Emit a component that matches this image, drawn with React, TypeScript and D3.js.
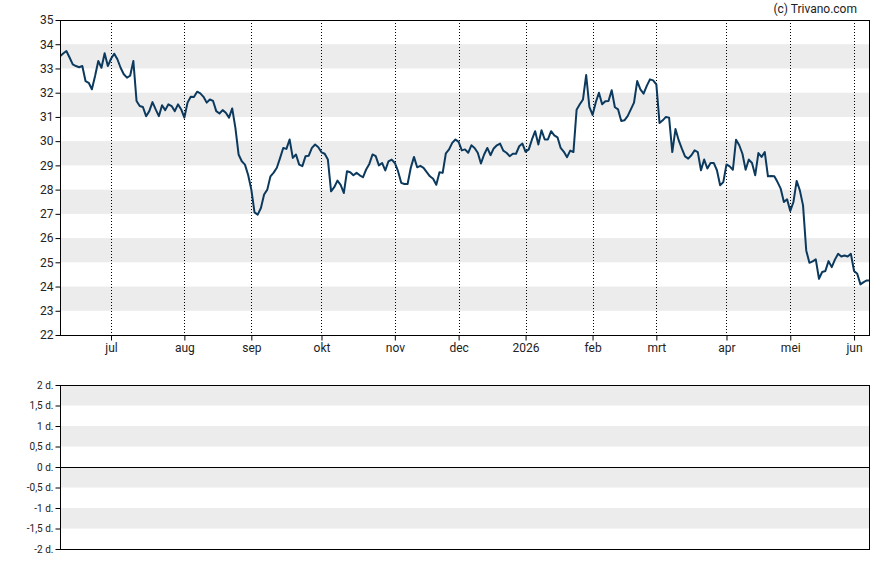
import { useEffect, useRef } from "react";
import * as d3 from "d3";

// closing price per trading day (index 0 = mid June 2025)
const prices = [
  33.5, 33.62, 33.72, 33.45, 33.17, 33.1, 33.05, 33.1, 32.48, 32.41,
  32.14, 32.69, 33.31, 33.03, 33.63, 33.1, 33.4, 33.61, 33.38, 33.03,
  32.76, 32.62, 32.7, 33.31, 31.66, 31.45, 31.41, 31.03, 31.24, 31.61,
  31.31, 31.03, 31.48, 31.28, 31.52, 31.45, 31.24, 31.52, 31.31, 30.97,
  31.59, 31.83, 31.82, 32.04, 31.97, 31.83, 31.59, 31.72, 31.66, 31.24,
  31.14, 31.28, 31.17, 30.97, 31.35, 30.55, 29.45, 29.17, 29.03, 28.6,
  28.0, 27.06, 26.97, 27.24, 27.8, 28.0, 28.55, 28.7, 28.9, 29.3,
  29.72, 29.68, 30.07, 29.31, 29.45, 29.03, 28.97, 29.38, 29.4, 29.72,
  29.86, 29.75, 29.54, 29.48, 29.24, 27.93, 28.1, 28.37, 28.2, 27.86,
  28.76, 28.72, 28.59, 28.69, 28.59, 28.51, 28.83, 29.06, 29.45, 29.38,
  29.0, 29.1, 28.79, 29.17, 29.24, 29.1, 28.76, 28.28, 28.23, 28.23,
  28.9, 29.35, 28.92, 28.98, 28.9, 28.72, 28.55, 28.45, 28.2, 28.72,
  28.69, 29.5, 29.66, 29.93, 30.07, 29.97, 29.62, 29.66, 29.52, 29.83,
  29.72, 29.52, 29.08, 29.45, 29.72, 29.42, 29.7, 29.83, 29.9, 29.61,
  29.52, 29.38, 29.48, 29.48, 29.79, 29.9, 29.56, 29.66, 30.07, 30.41,
  29.86, 30.45, 30.07, 30.07, 30.41, 30.24, 30.16, 29.72, 29.56, 29.34,
  29.61, 29.55, 31.3, 31.52, 31.72, 32.73, 31.41, 31.08, 31.6, 32.0,
  31.52, 31.65, 31.66, 32.1, 31.4, 31.31, 30.83, 30.86, 31.03, 31.31,
  31.59, 32.48, 32.14, 31.96, 32.28, 32.55, 32.51, 32.34, 30.75, 30.86,
  31.0, 30.97, 29.55, 30.5, 30.04, 29.69, 29.37, 29.28, 29.42, 29.62,
  29.55, 28.8, 29.24, 28.87, 29.1, 29.1, 28.8, 28.18, 28.31, 29.04,
  28.96, 28.82, 30.06, 29.83, 29.48, 28.82, 29.24, 29.1, 28.59, 29.51,
  29.35, 29.55, 28.55, 28.56, 28.55, 28.31, 28.04, 27.49, 27.6, 27.12,
  27.49, 28.36, 27.97, 27.35, 25.49, 24.98, 25.04, 25.12, 24.32, 24.6,
  24.64, 25.05, 24.8, 25.11, 25.35, 25.24, 25.28, 25.24, 25.35, 24.64,
  24.53, 24.09, 24.18, 24.25, 24.25,
];

const monthLabels = ["jul", "aug", "sep", "okt", "nov", "dec", "2026", "feb", "mrt", "apr", "mei", "jun"];
// trading day index where each month starts
const monthStarts = [16, 39, 60, 82, 105, 125, 146, 167, 187, 209, 229, 249];

const priceTicks = [22, 23, 24, 25, 26, 27, 28, 29, 30, 31, 32, 33, 34, 35];
const priceBands = [23, 25, 27, 29, 31, 33];

const spreadTicks = [-2, -1.5, -1, -0.5, 0, 0.5, 1, 1.5, 2];
const spreadLabels = ["-2 d.", "-1,5 d.", "-1 d.", "-0,5 d.", "0 d.", "0,5 d.", "1 d.", "1,5 d.", "2 d."];
const spreadBands = [-1.5, -0.5, 0.5, 1.5];

const W = 888;
const H = 565;
const FONT = "Roboto, 'Noto Sans', sans-serif";

export default function App() {
  const svgRef = useRef<SVGSVGElement>(null);

  useEffect(() => {
    const svg = d3.select(svgRef.current);
    svg.selectAll("*").remove();

    const left = 60;
    const right = 870;
    const top = 20;
    const bottom = 335;

    const x = d3.scaleLinear().domain([0, 254]).range([left, right]);
    const y = d3.scaleLinear().domain([22, 35]).range([bottom, top]);

    // background bands
    svg.append("g")
      .selectAll("rect")
      .data(priceBands)
      .join("rect")
      .attr("x", left)
      .attr("width", right - left)
      .attr("y", (d) => y(d + 1))
      .attr("height", (d) => y(d) - y(d + 1))
      .attr("fill", "#ececec");

    // dotted month lines
    svg.append("g")
      .selectAll("line")
      .data(monthStarts)
      .join("line")
      .attr("x1", (d) => Math.round(x(d)) + 0.5)
      .attr("x2", (d) => Math.round(x(d)) + 0.5)
      .attr("y1", top)
      .attr("y2", bottom)
      .attr("stroke", "#000")
      .attr("stroke-dasharray", "1,2");

    svg.append("defs")
      .append("clipPath")
      .attr("id", "plotClip")
      .append("rect")
      .attr("x", left)
      .attr("y", top)
      .attr("width", right - left)
      .attr("height", bottom - top);

    const priceLine = d3.line<number>()
      .x((d, i) => x(i))
      .y((d) => y(d));

    svg.append("path")
      .datum(prices)
      .attr("clip-path", "url(#plotClip)")
      .attr("d", priceLine)
      .attr("fill", "none")
      .attr("stroke", "#0c3a5e")
      .attr("stroke-width", 2)
      .attr("stroke-linejoin", "round");

    // frame
    svg.append("rect")
      .attr("x", left + 0.5)
      .attr("y", top + 0.5)
      .attr("width", right - left - 1)
      .attr("height", bottom - top)
      .attr("fill", "none")
      .attr("stroke", "#000");

    const yAxis = svg.append("g")
      .attr("transform", `translate(${left + 0.5},0)`)
      .call(d3.axisLeft(y).tickValues(priceTicks).tickSize(5).tickPadding(2).tickFormat(d3.format("d")));
    yAxis.select(".domain").remove();

    const xAxis = svg.append("g")
      .attr("transform", `translate(0,${bottom + 0.5})`)
      .call(
        d3.axisBottom(x)
          .tickValues(monthStarts)
          .tickSize(5)
          .tickPadding(3)
          .tickFormat((d, i) => monthLabels[i])
      );
    xAxis.select(".domain").remove();

    [yAxis, xAxis].forEach((g) => {
      g.selectAll("text").attr("font-family", FONT).attr("font-size", 12).attr("fill", "#222");
      g.selectAll("line").attr("stroke", "#000");
    });

    // lower panel
    const top2 = 385;
    const bottom2 = 549;
    const y2 = d3.scaleLinear().domain([-2, 2]).range([bottom2, top2]);

    svg.append("g")
      .selectAll("rect")
      .data(spreadBands)
      .join("rect")
      .attr("x", left)
      .attr("width", right - left)
      .attr("y", (d) => y2(d + 0.5))
      .attr("height", (d) => y2(d) - y2(d + 0.5))
      .attr("fill", "#ececec");

    svg.append("line")
      .attr("x1", left)
      .attr("x2", right)
      .attr("y1", Math.round(y2(0)) + 0.5)
      .attr("y2", Math.round(y2(0)) + 0.5)
      .attr("stroke", "#000");

    svg.append("rect")
      .attr("x", left + 0.5)
      .attr("y", top2 + 0.5)
      .attr("width", right - left - 1)
      .attr("height", bottom2 - top2)
      .attr("fill", "none")
      .attr("stroke", "#000");

    const y2Axis = svg.append("g")
      .attr("transform", `translate(${left + 0.5},0)`)
      .call(
        d3.axisLeft(y2)
          .tickValues(spreadTicks)
          .tickSize(5)
          .tickPadding(2)
          .tickFormat((d, i) => spreadLabels[i])
      );
    y2Axis.select(".domain").remove();
    y2Axis.selectAll("text").attr("font-family", FONT).attr("font-size", 10).attr("fill", "#222");
    y2Axis.selectAll("line").attr("stroke", "#000");

    svg.append("text")
      .attr("x", 857)
      .attr("y", 13)
      .attr("text-anchor", "end")
      .attr("font-family", FONT)
      .attr("font-size", 12)
      .attr("fill", "#222")
      .text("(c) Trivano.com");
  }, []);

  return (
    <svg
      ref={svgRef}
      width={W}
      height={H}
      style={{ position: "absolute", left: 0, top: 0, background: "#fff" }}
    ></svg>
  );
}
